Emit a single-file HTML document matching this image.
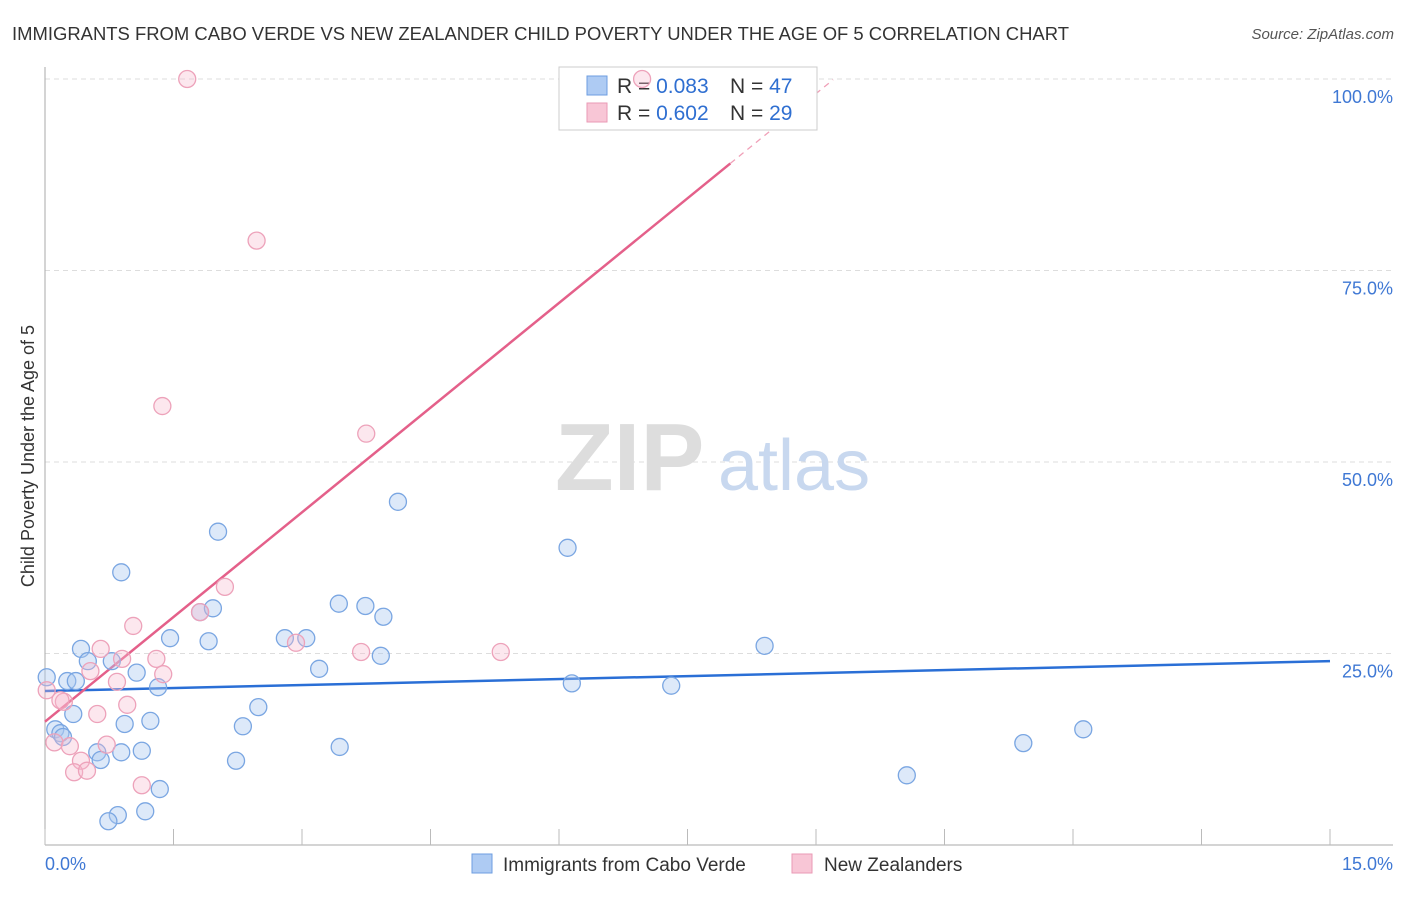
<!DOCTYPE html>
<html><head><meta charset="utf-8"><style>
body{margin:0;background:#fff;font-family:"Liberation Sans",sans-serif}
svg text{font-family:"Liberation Sans",sans-serif}
</style></head><body>
<svg id="chart" width="1406" height="892" xmlns="http://www.w3.org/2000/svg">
<text x="12" y="40" font-size="18" fill="#333" textLength="1057" lengthAdjust="spacingAndGlyphs">IMMIGRANTS FROM CABO VERDE VS NEW ZEALANDER CHILD POVERTY UNDER THE AGE OF 5 CORRELATION CHART</text>
<text x="1394" y="39" font-size="15" fill="#555" text-anchor="end" font-style="italic">Source: ZipAtlas.com</text>
<g id="grid"></g>
<text x="555" y="490" font-size="96" fill="#ddd" font-family="Liberation Serif" font-weight="bold">ZIP</text>
<text x="718" y="490" font-size="72" fill="#c8d8ef">atlas</text>
<g id="axes"></g>
<g id="trends"></g>
<g>
<rect x="559" y="67" width="258" height="63" fill="#fff" stroke="#ccc"/>
<rect x="587" y="76" width="20" height="19" fill="#aecbf3" stroke="#6d9ee0"/>
<rect x="587" y="103" width="20" height="19" fill="#f8c6d6" stroke="#ea9ab5"/>
<text x="617" y="93" font-size="21" fill="#333">R = <tspan fill="#2f6fd1">0.083</tspan></text>
<text x="730" y="93" font-size="21" fill="#333">N = <tspan fill="#2f6fd1">47</tspan></text>
<text x="617" y="120" font-size="21" fill="#333">R = <tspan fill="#2f6fd1">0.602</tspan></text>
<text x="730" y="120" font-size="21" fill="#333">N = <tspan fill="#2f6fd1">29</tspan></text>
</g>
<g id="pts"></g>
<text transform="translate(34,456) rotate(-90)" font-size="18" fill="#333" text-anchor="middle">Child Poverty Under the Age of 5</text>
<g>
<rect x="472" y="854" width="20" height="19" fill="#aecbf3" stroke="#6d9ee0"/>
<text x="503" y="871" font-size="19" fill="#333">Immigrants from Cabo Verde</text>
<rect x="792" y="854" width="20" height="19" fill="#f8c6d6" stroke="#ea9ab5"/>
<text x="824" y="871" font-size="19" fill="#333">New Zealanders</text>
</g>
</svg>
<script>
const yTicks=[25,50,75,100];
const yTickLabels=["25.0%","50.0%","75.0%","100.0%"];
const blueX=[0.89,2.02,4.12,6.10,1.81,1.96,3.43,3.74,3.95,1.46,1.91,2.80,3.05,0.42,0.50,0.78,8.40,0.02,0.26,0.36,1.07,1.32,3.20,3.92,6.15,7.31,0.33,0.93,1.23,2.31,2.49,0.12,0.18,0.21,0.61,0.89,0.65,1.13,2.23,3.44,11.42,12.12,10.06,1.34,1.17,0.85,0.74];
const blueY=[35.6,40.9,44.8,38.8,30.4,30.9,31.5,31.2,29.8,27.0,26.6,27.0,27.0,25.6,24.0,24.0,26.0,21.9,21.4,21.4,22.5,20.6,23.0,24.7,21.1,20.8,17.1,15.8,16.2,15.5,18.0,15.1,14.6,14.1,12.1,12.1,11.1,12.3,11.0,12.8,13.3,15.1,9.1,7.3,4.4,3.9,3.1];
const pinkX=[1.66,6.97,2.47,1.37,3.75,2.10,1.81,1.03,0.65,0.90,1.30,1.38,0.53,0.84,2.93,3.69,5.32,0.02,0.22,0.96,0.61,0.11,0.29,0.72,0.42,0.34,0.49,1.13,0.18];
const pinkY=[100,100,78.9,57.3,53.7,33.7,30.4,28.6,25.6,24.3,24.3,22.3,22.7,21.3,26.4,25.2,25.2,20.2,18.7,18.3,17.1,13.4,12.9,13.1,11.0,9.5,9.7,7.8,18.9];
const blueTrend=[20.1,24.0];
const pinkTrend=[16.1,9.11];
const X=v=>45+v/15*1285, Y=v=>845-v*7.66;
const NS="http://www.w3.org/2000/svg";
function mk(tag,attrs,parent){const e=document.createElementNS(NS,tag);for(const k in attrs)e.setAttribute(k,attrs[k]);document.getElementById(parent).appendChild(e);return e;}
yTicks.forEach((t,i)=>{
 const l=mk('line',{x1:45,x2:1393,y1:Y(t),y2:Y(t),stroke:'#ddd','stroke-dasharray':'5,4'},'grid');
 
 
 const tx=mk('text',{x:1393,y:Y(t)+24,'font-size':18,fill:'#3f78d4','text-anchor':'end'},'grid');
 tx.textContent=yTickLabels[i];
 
 
});
let a=mk('line',{x1:45,x2:45,y1:67,y2:845,stroke:'#aaa'},'axes');

a=mk('line',{x1:45,x2:1393,y1:845,y2:845,stroke:'#aaa'},'axes');

for(let i=0;i<=10;i++){const t=mk('line',{x1:X(i*1.5),x2:X(i*1.5),y1:829,y2:845,stroke:'#bbb'},'axes');
 }
let t1=mk('text',{x:45,y:870,'font-size':18,fill:'#3f78d4'},'axes');t1.textContent='0.0%';

t1=mk('text',{x:1393,y:870,'font-size':18,fill:'#3f78d4','text-anchor':'end'},'axes');t1.textContent='15.0%';

blueX.forEach((v,i)=>{const c=mk('circle',{cx:X(v),cy:Y(blueY[i]),r:8.5,fill:'rgba(170,200,240,0.4)',stroke:'#7aa6e2','stroke-width':1.3},'pts');
 });
pinkX.forEach((v,i)=>{const c=mk('circle',{cx:X(v),cy:Y(pinkY[i]),r:8.5,fill:'rgba(245,185,205,0.35)',stroke:'#eda2ba','stroke-width':1.3},'pts');
 });
let L=mk('line',{x1:X(0),y1:Y(blueTrend[0]),x2:X(15),y2:Y(blueTrend[1]),stroke:'#2a6fd6','stroke-width':2.5},'trends');

L=mk('line',{x1:X(0),y1:Y(pinkTrend[0]),x2:X(8),y2:Y(pinkTrend[0]+pinkTrend[1]*8),stroke:'#e4608a','stroke-width':2.5},'trends');

L=mk('line',{x1:X(8),y1:Y(pinkTrend[0]+pinkTrend[1]*8),x2:X(9.2),y2:Y(pinkTrend[0]+pinkTrend[1]*9.2),stroke:'#f0a0b8','stroke-width':1.3,'stroke-dasharray':'6,5'},'trends');

</script>
</body></html>
